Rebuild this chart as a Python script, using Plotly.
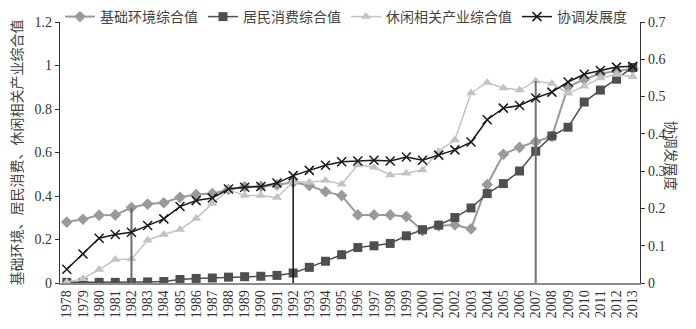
import plotly.graph_objects as go

# Years on the category axis
years = list(range(1978, 2014))

# 基础环境综合值 (left axis)
basic_env = [0.280, 0.293, 0.312, 0.313, 0.347, 0.363, 0.369, 0.394, 0.407, 0.411,
             0.430, 0.442, 0.444, 0.451, 0.463, 0.448, 0.420, 0.402, 0.313, 0.313,
             0.313, 0.306, 0.241, 0.263, 0.267, 0.249, 0.452, 0.592, 0.624, 0.650,
             0.674, 0.902, 0.936, 0.963, 0.974, 0.985]

# 居民消费综合值 (left axis)
consumption = [0.003, 0.003, 0.003, 0.003, 0.003, 0.005, 0.007, 0.016, 0.021, 0.023,
               0.027, 0.029, 0.031, 0.035, 0.046, 0.072, 0.100, 0.130, 0.163, 0.171,
               0.182, 0.217, 0.245, 0.266, 0.301, 0.345, 0.411, 0.457, 0.515, 0.606,
               0.676, 0.716, 0.832, 0.887, 0.937, 0.991]

# 休闲相关产业综合值 (left axis)
leisure = [0.004, 0.020, 0.062, 0.108, 0.110, 0.197, 0.223, 0.246, 0.296, 0.365,
           0.428, 0.402, 0.402, 0.393, 0.466, 0.463, 0.471, 0.454, 0.543, 0.532,
           0.497, 0.505, 0.520, 0.605, 0.657, 0.874, 0.922, 0.897, 0.887, 0.929,
           0.917, 0.872, 0.905, 0.943, 0.959, 0.948]

# 协调发展度 (right axis)
coordination = [0.037, 0.078, 0.120, 0.130, 0.136, 0.154, 0.172, 0.205, 0.221, 0.228,
                0.252, 0.257, 0.259, 0.268, 0.288, 0.302, 0.316, 0.325, 0.327, 0.329,
                0.327, 0.338, 0.329, 0.343, 0.357, 0.378, 0.438, 0.469, 0.476, 0.496,
                0.512, 0.539, 0.560, 0.570, 0.579, 0.581]

left_ticks = [0, 0.2, 0.4, 0.6, 0.8, 1, 1.2]
right_ticks = [0, 0.1, 0.2, 0.3, 0.4, 0.5, 0.6, 0.7]

# Stage markers: years where a drop line is drawn
stage_years = [1982, 1992, 2007]

FONT = "Liberation Serif, DejaVu Serif, Noto Sans CJK SC"

fig = go.Figure()

fig.add_trace(go.Scatter(
    x=years, y=basic_env, name="基础环境综合值", mode="lines+markers",
    line=dict(color="#9a9a9a", width=2),
    marker=dict(symbol="diamond", size=9, color="#9a9a9a"),
))
fig.add_trace(go.Scatter(
    x=years, y=consumption, name="居民消费综合值", mode="lines+markers",
    line=dict(color="#4f4f4f", width=1.5),
    marker=dict(symbol="square", size=9, color="#4f4f4f"),
))
fig.add_trace(go.Scatter(
    x=years, y=leisure, name="休闲相关产业综合值", mode="lines+markers",
    line=dict(color="#c3c3c3", width=1.5),
    marker=dict(symbol="triangle-up", size=9, color="#c3c3c3"),
))
fig.add_trace(go.Scatter(
    x=years, y=coordination, name="协调发展度", mode="lines+markers", yaxis="y2",
    line=dict(color="#1a1a1a", width=1.5),
    marker=dict(symbol="x-thin", size=9, color="#1a1a1a",
                line=dict(color="#1a1a1a", width=1.5)),
))

# Vertical drop lines marking the development stages
i0 = years.index(stage_years[0])
fig.add_trace(go.Scatter(
    x=[stage_years[0], stage_years[0]], y=[0, basic_env[i0]], mode="lines",
    line=dict(color="#6a6a6a", width=2), showlegend=False, hoverinfo="skip",
))
i1 = years.index(stage_years[1])
fig.add_trace(go.Scatter(
    x=[stage_years[1], stage_years[1]], y=[0, coordination[i1]], mode="lines",
    yaxis="y2", line=dict(color="#111111", width=1.5), showlegend=False,
    hoverinfo="skip",
))
i2 = years.index(stage_years[2])
fig.add_trace(go.Scatter(
    x=[stage_years[2], stage_years[2]], y=[0, leisure[i2]], mode="lines",
    line=dict(color="#707070", width=2), showlegend=False, hoverinfo="skip",
))

fig.update_layout(
    width=696, height=329,
    margin=dict(l=60, r=56, t=22, b=46, autoexpand=False),
    paper_bgcolor="white", plot_bgcolor="white",
    font=dict(family=FONT, size=14, color="#333333"),
    showlegend=True,
    legend=dict(
        orientation="h", xref="paper", x=0, xanchor="left",
        yref="container", y=1 - 17 / 329, yanchor="middle",
        font=dict(family=FONT, size=14, color="#444444"),
        bgcolor="rgba(0,0,0,0)", traceorder="normal",
    ),
    xaxis=dict(
        range=[1977.58, 2013.45], tickmode="array", tickvals=years,
        ticktext=[str(y) for y in years], tickangle=-90,
        tickfont=dict(family=FONT, size=14, color="#333333"),
        showgrid=False, zeroline=False, showline=True,
        linecolor="#8c8c8c", linewidth=1.5, ticks="",
    ),
    yaxis=dict(
        range=[0, 1.2], tickmode="array", tickvals=left_ticks,
        ticktext=[f"{v:g}" for v in left_ticks],
        showgrid=False, zeroline=False, showline=True,
        linecolor="#333333", linewidth=1.2, ticks="outside", ticklen=4,
        tickcolor="#333333",
        tickfont=dict(family=FONT, size=14, color="#333333"),
        title=dict(text="基础环境、居民消费、休闲相关产业综合值",
                   font=dict(family=FONT, size=14, color="#444444"), standoff=8),
    ),
    yaxis2=dict(
        range=[0, 0.7], overlaying="y", side="right", tickmode="array",
        tickvals=right_ticks, ticktext=[f"{v:g}" for v in right_ticks],
        showgrid=False, zeroline=False, showline=True,
        linecolor="#333333", linewidth=1.2, ticks="outside", ticklen=4,
        tickcolor="#333333",
        tickfont=dict(family=FONT, size=14, color="#333333"),
    ),
    annotations=[dict(
        text="协调发展度", xref="paper", yref="paper", x=1.0, y=0.49,
        xshift=40, textangle=90, showarrow=False,
        font=dict(family=FONT, size=14, color="#444444"),
    )],
)

fig.write_html("out.html")
